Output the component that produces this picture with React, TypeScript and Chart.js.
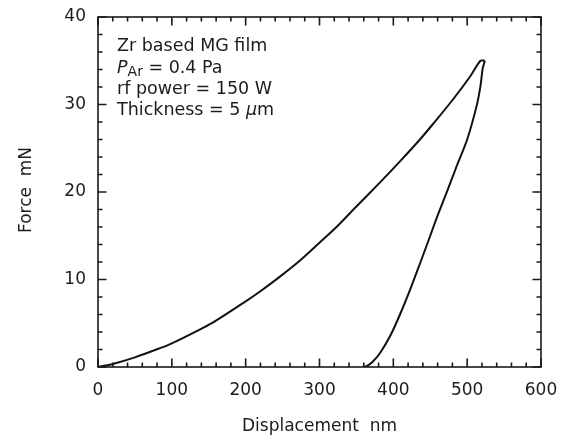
import React, { useEffect, useRef } from 'react';
import { Chart, registerables } from 'chart.js';

Chart.register(...registerables);

// Loading branch (displacement nm, force mN)
const loadX = [0, 20, 50, 84, 100, 129, 156, 200, 219, 246, 274, 300, 323, 346, 382, 409, 436, 454, 481, 504, 518, 524];
const loadY = [0, 0.35, 1.1, 2.15, 2.7, 3.9, 5.1, 7.5, 8.6, 10.3, 12.2, 14.2, 16.0, 18.0, 21.1, 23.5, 26.0, 27.8, 30.6, 33.2, 35.0, 35.0];
// Unloading branch
const unloadX = [521, 518, 513, 500, 486, 472, 459, 450, 436, 423, 409, 396, 382, 372, 365, 360];
const unloadY = [34.1, 32.1, 29.9, 26.0, 23.0, 19.9, 17.1, 15.0, 11.8, 8.9, 6.0, 3.6, 1.6, 0.6, 0.15, 0];

const xMin = 0, xMax = 600, xMajor = 100, xMinor = 20;
const yMin = 0, yMax = 40, yMajor = 10, yMinor = 2;

const xTitle = 'Displacement  nm';
const yTitle = 'Force  mN';
const noteLine1 = 'Zr based MG film';
const noteLine3 = 'rf power = 150 W';

const FONT = 'DejaVu Sans';
const TEXT = '#1c1c1c';

const framePlugin = {
  id: 'framePlugin',
  afterDraw(chart: any) {
    const { ctx, chartArea: a, scales } = chart;
    const xs = scales.x, ys = scales.y;
    ctx.save();
    ctx.strokeStyle = '#1a1a1a';
    ctx.lineWidth = 1.6;
    ctx.strokeRect(a.left, a.top, a.right - a.left, a.bottom - a.top);
    for (let v = xMin; v <= xMax + 1e-9; v += xMinor) {
      const px = xs.getPixelForValue(v);
      const major = Math.abs(v / xMajor - Math.round(v / xMajor)) < 1e-6;
      const len = major ? 8.5 : 4.5;
      ctx.beginPath();
      ctx.moveTo(px, a.bottom); ctx.lineTo(px, a.bottom - len);
      ctx.moveTo(px, a.top); ctx.lineTo(px, a.top + len);
      ctx.stroke();
    }
    for (let v = yMin; v <= yMax + 1e-9; v += yMinor) {
      const py = ys.getPixelForValue(v);
      const major = Math.abs(v / yMajor - Math.round(v / yMajor)) < 1e-6;
      const len = major ? 8.5 : 4.5;
      ctx.beginPath();
      ctx.moveTo(a.left, py); ctx.lineTo(a.left + len, py);
      ctx.moveTo(a.right, py); ctx.lineTo(a.right - len, py);
      ctx.stroke();
    }
    // axis titles
    ctx.fillStyle = TEXT;
    ctx.font = `17px "${FONT}"`;
    ctx.textAlign = 'center';
    ctx.textBaseline = 'alphabetic';
    ctx.fillText(xTitle, (a.left + a.right) / 2, 431);
    ctx.save();
    ctx.translate(31, (a.top + a.bottom) / 2 - 2);
    ctx.rotate(-Math.PI / 2);
    ctx.fillText(yTitle, 0, 0);
    ctx.restore();

    // annotation
    ctx.textAlign = 'left';
    const x0 = a.left + 19;
    const fs = 17.5;
    const normal = `${fs}px "${FONT}"`;
    const italic = `italic ${fs}px "${FONT}"`;
    ctx.font = normal;
    ctx.fillText(noteLine1, x0, 51);
    let cx = x0;
    ctx.font = italic;
    ctx.fillText('P', cx, 72.5);
    cx += ctx.measureText('P').width;
    ctx.font = `14px "${FONT}"`;
    ctx.fillText('Ar', cx, 75.5);
    cx += ctx.measureText('Ar').width;
    ctx.font = normal;
    ctx.fillText(' = 0.4 Pa', cx, 72.5);
    ctx.fillText(noteLine3, x0, 94);
    cx = x0;
    ctx.fillText('Thickness = 5 ', cx, 115);
    cx += ctx.measureText('Thickness = 5 ').width;
    ctx.font = italic;
    ctx.fillText('\u03BC', cx, 115);
    cx += ctx.measureText('\u03BC').width;
    ctx.font = normal;
    ctx.fillText('m', cx, 115);
    ctx.restore();
  },
};

const zeroPad = (s: any) => {
  s.paddingTop = 0;
  s.paddingBottom = 0;
  s.paddingLeft = 0;
  s.paddingRight = 0;
};

export default function App() {
  const ref = useRef<HTMLCanvasElement | null>(null);
  useEffect(() => {
    if (!ref.current) return;
    const loading = loadX.map((x, i) => ({ x, y: loadY[i] }));
    const unloading = [loading[loading.length - 1], ...unloadX.map((x, i) => ({ x, y: unloadY[i] }))];
    const common = {
      showLine: true,
      borderColor: '#111',
      borderWidth: 2,
      pointRadius: 0,
      tension: 0.3,
      fill: false,
    };
    const chart = new Chart(ref.current, {
      type: 'scatter',
      data: {
        datasets: [
          { ...common, data: loading },
          { ...common, data: unloading },
        ],
      },
      options: {
        animation: false,
        responsive: false,
        layout: { padding: { left: 0, top: 17, right: 25, bottom: 0 } },
        plugins: { legend: { display: false }, tooltip: { enabled: false } },
        scales: {
          x: {
            type: 'linear',
            min: xMin,
            max: xMax,
            grid: { display: false, drawTicks: false },
            border: { display: false },
            ticks: {
              stepSize: xMajor,
              padding: 13,
              color: TEXT,
              font: { family: FONT, size: 17 },
              maxRotation: 0,
            },
            afterFit: (s: any) => { s.height = 72; zeroPad(s); },
          },
          y: {
            type: 'linear',
            min: yMin,
            max: yMax,
            grid: { display: false, drawTicks: false },
            border: { display: false },
            ticks: {
              stepSize: yMajor,
              padding: 12,
              color: TEXT,
              font: { family: FONT, size: 17 },
            },
            afterFit: (s: any) => { s.width = 98; zeroPad(s); },
          },
        },
      },
      plugins: [framePlugin],
    });
    return () => chart.destroy();
  }, []);
  return (
    <div style={{ position: 'absolute', left: 0, top: 0, width: 566, height: 439, background: '#fff' }}>
      <canvas ref={ref} width={566} height={439} style={{ display: 'block' }} />
    </div>
  );
}
